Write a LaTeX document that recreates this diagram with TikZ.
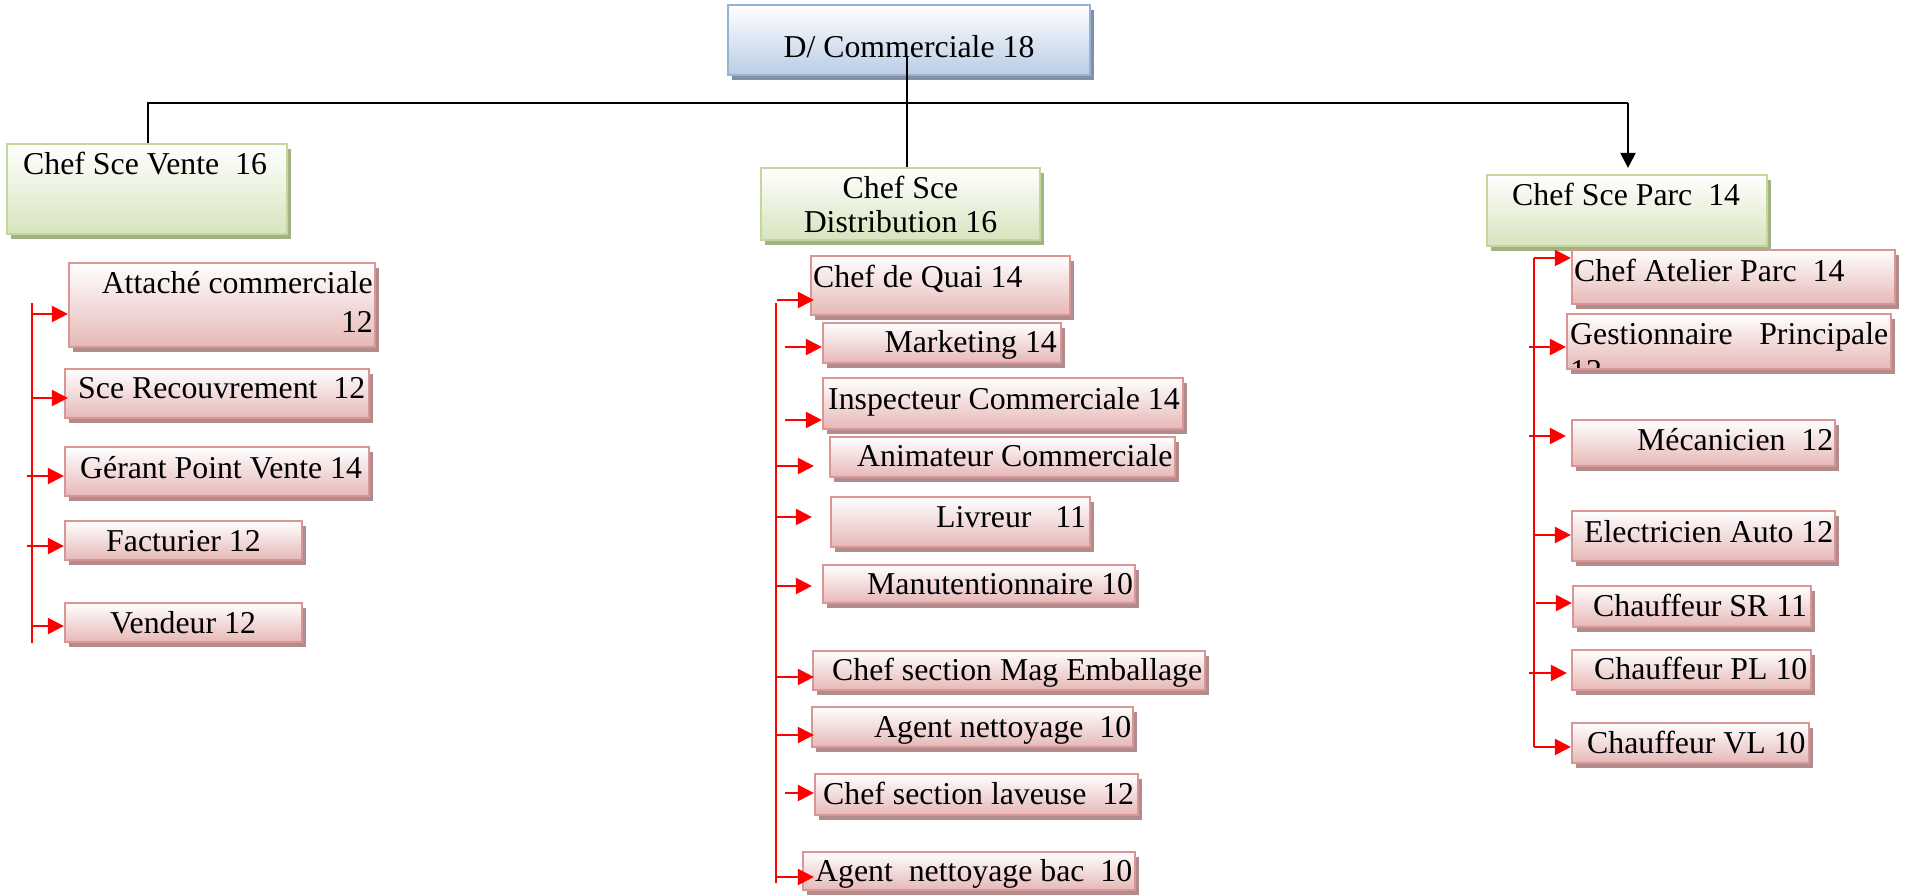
\documentclass[tikz,border=0pt]{standalone}
\usepackage{fontspec}
\setmainfont{Liberation Serif}
\usetikzlibrary{fit,shadows,arrows.meta}

\definecolor{pinkline}{RGB}{217,150,148}
\definecolor{pinkfill}{RGB}{230,184,183}
\definecolor{pinkshade}{RGB}{178,140,140}
\definecolor{greenline}{RGB}{195,214,155}
\definecolor{greenfill}{RGB}{215,228,189}
\definecolor{greenshade}{RGB}{163,178,130}
\definecolor{blueline}{RGB}{149,179,215}
\definecolor{bluefill}{RGB}{185,205,229}
\definecolor{blueshade}{RGB}{130,143,165}

\tikzset{
  box/.style={rectangle, inner sep=0pt, line width=2.2pt},
  pinkbox/.style={box, draw=pinkline, top color=white, bottom color=pinkfill,
    drop shadow={shadow xshift=4pt, shadow yshift=-5pt, fill=pinkshade, opacity=1}},
  greenbox/.style={box, draw=greenline, top color=white, bottom color=greenfill,
    drop shadow={shadow xshift=4pt, shadow yshift=-5pt, fill=greenshade, opacity=1}},
  bluebox/.style={box, draw=blueline, top color=white, bottom color=bluefill,
    drop shadow={shadow xshift=4pt, shadow yshift=-5pt, fill=blueshade, opacity=1}},
  txt/.style={inner sep=0pt, font=\fontsize{31.8}{38}\selectfont, text=black},
  link/.style={black, line width=2.2pt},
  linkarrow/.style={link, -{Triangle[length=15pt,width=15pt]}},
  trunk/.style={red, line width=2.2pt},
  feed/.style={trunk, -{Triangle[length=16pt,width=16pt]}},
}

\begin{document}
\begin{tikzpicture}[x=1pt,y=-1pt]
\useasboundingbox (0,0) rectangle (1916,896);

% ---------- head and section chiefs ----------
\node[bluebox,  fit={(728,5) (1090,75)}]    (dc)    {};
\node[greenbox, fit={(7,144) (287,234)}]    (vente) {};
\node[greenbox, fit={(761,168) (1040,240)}] (dist)  {};
\node[greenbox, fit={(1487,175) (1767,246)}] (parc) {};

% ---------- sales staff ----------
\node[pinkbox, fit={(69,263) (375,347)}]  (attache) {};
\node[pinkbox, fit={(65,369) (369,418)}]  (recouv)  {};
\node[pinkbox, fit={(65,447) (369,496)}]  (gerant)  {};
\node[pinkbox, fit={(65,521) (302,560)}]  (factur)  {};
\node[pinkbox, fit={(65,603) (302,642)}]  (vendeur) {};

% ---------- distribution staff ----------
\node[pinkbox, fit={(811,256) (1070,315)}]  (quai)    {};
\node[pinkbox, fit={(823,323) (1061,363)}]  (mkt)     {};
\node[pinkbox, fit={(823,378) (1183,429)}]  (insp)    {};
\node[pinkbox, fit={(830,437) (1175,477)}]  (anim)    {};
\node[pinkbox, fit={(831,497) (1090,547)}]  (livreur) {};
\node[pinkbox, fit={(823,565) (1135,603)}]  (manut)   {};
\node[pinkbox, fit={(813,651) (1205,690)}]  (emball)  {};
\node[pinkbox, fit={(812,707) (1133,747)}]  (agent)   {};
\node[pinkbox, fit={(815,774) (1138,815)}]  (laveuse) {};
\node[pinkbox, fit={(803,852) (1135,890)}]  (bac)     {};

% ---------- fleet staff ----------
\node[pinkbox, fit={(1572,250) (1895,304)}] (atelier) {};
\node[pinkbox, fit={(1567,314) (1891,369)}] (gest)    {};
\node[pinkbox, fit={(1572,420) (1835,466)}] (meca)    {};
\node[pinkbox, fit={(1572,511) (1835,561)}] (elec)    {};
\node[pinkbox, fit={(1573,586) (1811,627)}] (csr)     {};
\node[pinkbox, fit={(1572,650) (1811,690)}] (cpl)     {};
\node[pinkbox, fit={(1572,723) (1809,763)}] (cvl)     {};

% ---------- labels ----------
\node[txt, anchor=base]      (dc-t)     at (909,58)   {D/ Commerciale 18};
\node[txt, anchor=base west] (vente-t)  at (23,175)   {Chef Sce Vente~~16};
\node[txt, anchor=base]      (dist-t1)  at (900.5,199) {Chef Sce};
\node[txt, anchor=base]      (dist-t2)  at (900.5,233) {Distribution 16};
\node[txt, anchor=base west] (parc-t)   at (1512,205) {Chef Sce Parc~~14};

\node[txt, anchor=base east] (attache-t1) at (373,293) {Attaché commerciale};
\node[txt, anchor=base east] (attache-t2) at (373,332) {12};
\node[txt, anchor=base west] (recouv-t)  at (78,398)  {Sce Recouvrement~~12};
\node[txt, anchor=base west] (gerant-t)  at (80,478)  {Gérant Point Vente 14};
\node[txt, anchor=base west] (factur-t)  at (106,551) {Facturier 12};
\node[txt, anchor=base west] (vendeur-t) at (110,633) {Vendeur 12};

\node[txt, anchor=base west] (quai-t)    at (813,287)  {Chef de Quai 14};
\node[txt, anchor=base east] (mkt-t)     at (1057,352) {Marketing 14};
\node[txt, anchor=base west] (insp-t)    at (828,409)  {Inspecteur Commerciale 14};
\node[txt, anchor=base west] (anim-t)    at (857,466)  {Animateur Commerciale};
\node[txt, anchor=base west] (livreur-t) at (936,527)  {Livreur~~~11};
\node[txt, anchor=base west] (manut-t)   at (867,594)  {Manutentionnaire 10};
\node[txt, anchor=base west] (emball-t)  at (832,680)  {Chef section Mag Emballage};
\node[txt, anchor=base west] (agent-t)   at (874,737)  {Agent nettoyage~~10};
\node[txt, anchor=base west] (laveuse-t) at (823,804)  {Chef section laveuse~~12};
\node[txt, anchor=base west] (bac-t)     at (815,881)  {Agent~~nettoyage bac~~10};

\node[txt, anchor=base west] (atelier-t) at (1574,281) {Chef Atelier Parc~~14};
\node[txt, anchor=base west] (gest-t1)   at (1570,344) {\makebox[318pt][s]{Gestionnaire Principale}};
\begin{scope}
  \clip (1567,314) rectangle (1891,367);
  \node[txt, anchor=base west] (gest-t2) at (1570,381) {12};
\end{scope}
\node[txt, anchor=base west] (meca-t)    at (1637,450) {Mécanicien~~12};
\node[txt, anchor=base west] (elec-t)    at (1584,542) {Electricien Auto 12};
\node[txt, anchor=base west] (csr-t)     at (1593,616) {Chauffeur SR 11};
\node[txt, anchor=base west] (cpl-t)     at (1594,679) {Chauffeur PL 10};
\node[txt, anchor=base west] (cvl-t)     at (1587,753) {Chauffeur VL 10};

% ---------- black links from the head ----------
\coordinate (stem) at (907,57);
\coordinate (busL) at (148,103);
\coordinate (busR) at (1628,103);
\draw[link] (stem) -- (stem |- dist.north);
\draw[link] (busL |- vente.north) -- (busL) -- (busR);
\draw[linkarrow, shorten >=6pt] (busR) -- (busR |- parc.north);

% ---------- red feeders: sales ----------
\draw[trunk] (32,303) coordinate (Ltop) -- (32,643) coordinate (Lbot);
\coordinate (L1) at (32,314);
\coordinate (L2) at (32,398);
\coordinate (L3) at (27,476);
\coordinate (L4) at (27,546);
\coordinate (L5) at (32,626);
\draw[feed] (L1) -- (L1 -| attache.west);
\draw[feed] (L2) -- ([xshift=4pt]L2 -| recouv.west);
\draw[feed] (L3) -- (L3 -| gerant.west);
\draw[feed] (L4) -- (L4 -| factur.west);
\draw[feed] (L5) -- (L5 -| vendeur.west);

% ---------- red feeders: distribution ----------
\draw[trunk] (776,303) coordinate (Mtop) -- (776,883) coordinate (Mbot);
\coordinate (M1)  at (777,300);
\coordinate (M2)  at (785,347);
\coordinate (M3)  at (785,420);
\coordinate (M4)  at (777,466);
\coordinate (M5)  at (775,517);
\coordinate (M6)  at (775,586);
\coordinate (M7)  at (776,677);
\coordinate (M8)  at (776,735);
\coordinate (M9)  at (785,793);
\coordinate (M10) at (776,877);
\draw[feed] (M1)  -- ([xshift=4pt]M1 -| quai.west);
\draw[feed] (M2)  -- (M2 -| mkt.west);
\draw[feed] (M3)  -- (M3 -| insp.west);
\draw[feed] (M4)  -- ([xshift=-15pt]M4 -| anim.west);
\draw[feed] (M5)  -- ([xshift=-18pt]M5 -| livreur.west);
\draw[feed] (M6)  -- ([xshift=-10pt]M6 -| manut.west);
\draw[feed] (M7)  -- ([xshift=2pt]M7 -| emball.west);
\draw[feed] (M8)  -- ([xshift=3pt]M8 -| agent.west);
\draw[feed] (M9)  -- (M9 -| laveuse.west);
\draw[feed] (M10) -- ([xshift=12pt]M10 -| bac.west);

% ---------- red feeders: fleet ----------
\coordinate (R1) at (1534,258);
\coordinate (R2) at (1529,347);
\coordinate (R3) at (1529,436);
\coordinate (R4) at (1533,535);
\coordinate (R5) at (1536,603);
\coordinate (R6) at (1529,673);
\coordinate (R7) at (1534,747);
\draw[trunk] (R1) -- (R7);
\draw[feed] (R1) -- (R1 -| atelier.west);
\draw[feed] (R2) -- (R2 -| gest.west);
\draw[feed] (R3) -- ([xshift=-5pt]R3 -| meca.west);
\draw[feed] (R4) -- (R4 -| elec.west);
\draw[feed] (R5) -- (R5 -| csr.west);
\draw[feed] (R6) -- ([xshift=-4pt]R6 -| cpl.west);
\draw[feed] (R7) -- (R7 -| cvl.west);
\end{tikzpicture}
\end{document}
